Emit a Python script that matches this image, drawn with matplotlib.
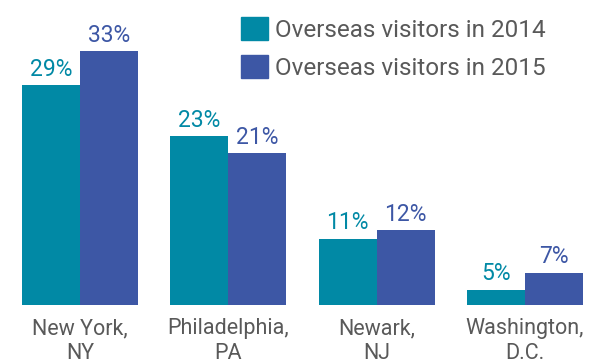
import numpy as np
import matplotlib.pyplot as plt
from matplotlib.patches import Patch

# data
cities = ['New York,\nNY', 'Philadelphia,\nPA', 'Newark,\nNJ', 'Washington,\nD.C.']
visitors_2014 = [29, 23, 11, 5]
visitors_2015 = [33, 21, 12, 7]
series_names = ['Overseas visitors in 2014', 'Overseas visitors in 2015']

teal = '#0189A5'
blue = '#3D57A5'
grey = '#595959'


def main():
    plt.rcParams['font.family'] = ['Roboto', 'DejaVu Sans']
    fig = plt.figure(figsize=(5.89, 3.59), dpi=100)
    ax = fig.add_axes([0, 54 / 359, 1, 305 / 359])

    x = np.arange(len(cities))
    w = 0.391
    b1 = ax.bar(x - w / 2, visitors_2014, width=w, color=teal)
    b2 = ax.bar(x + w / 2, visitors_2015, width=w, color=blue)

    # value labels above each bar
    for bars, vals, col in [(b1, visitors_2014, teal), (b2, visitors_2015, blue)]:
        for rect, v in zip(bars, vals):
            ax.annotate(f'{v}%', (rect.get_x() + rect.get_width() / 2, v),
                        xytext=(0, 3), textcoords='offset points',
                        ha='center', va='bottom', fontsize=16.5, color=col)

    ax.set_xlim(-0.539, 3.432)
    ax.set_ylim(3.2, 39.0)
    ax.set_xticks(x)
    # second line runs off the bottom edge, as in the original
    ax.set_xticklabels(cities, fontsize=15.5, color=grey, linespacing=1.25)
    ax.tick_params(axis='x', length=0, pad=9.5)
    ax.set_yticks([])
    for s in ax.spines.values():
        s.set_visible(False)

    handles = [Patch(color=teal), Patch(color=blue)]
    fig.legend(handles, series_names, loc='upper left',
               bbox_to_anchor=(241 / 589, 1 - 17 / 359), borderaxespad=0,
               borderpad=0, frameon=False, fontsize=17.5, labelcolor=grey,
               handlelength=1.11, handleheight=1.11, handletextpad=0.28,
               labelspacing=0.52)

    fig.savefig('out.png', dpi=100)


if __name__ == '__main__':
    main()
